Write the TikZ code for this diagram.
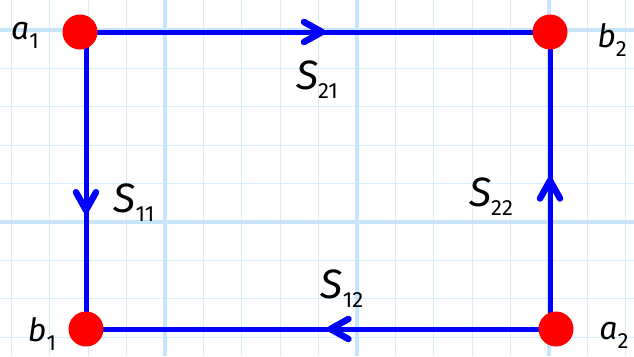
\documentclass[tikz,border=0pt]{standalone}
\usepackage{fontspec}
\setmainfont{Fira Sans}
\usetikzlibrary{backgrounds}

\definecolor{gridthin}{RGB}{214,237,252}
\definecolor{gridthick}{RGB}{200,230,250}

% letter with a lowered index
\newcommand{\idx}[2]{{\itshape #1}\raisebox{-9pt}{\fontsize{22}{22}\selectfont #2}}

\tikzset{
	dot/.style={circle, fill=red, minimum size=35pt, inner sep=0pt},
	side/.style={blue, line width=5pt},
	chev/.style={blue, line width=6.5pt, line cap=round, line join=round},
	corner/.style={inner sep=0pt, font=\fontsize{32}{32}\selectfont},
	param/.style={inner sep=0pt, font=\fontsize{41}{41}\selectfont}
}

\begin{document}
\begin{tikzpicture}[x=1pt, y=-1pt]
		\useasboundingbox (0,0) rectangle (634,356);

		% ports
		\node[dot] (a1) at (80,32) {};
		\node[dot] (b2) at (550,32) {};
		\node[dot] (b1) at (86,329) {};
		\node[dot] (a2) at (556,329) {};

		\begin{scope}[on background layer]
		% squared paper
		\foreach \i in {0,...,16}
			\draw[gridthin, line width=1pt] ({11.4+38.4*\i},0) -- ++(0,356);
		\foreach \j in {0,...,8}
			\draw[gridthin, line width=1pt] (0,{30+38.4*\j}) -- ++(634,0);
		\foreach \i in {165,357,549}
			\draw[gridthick, line width=4pt] (\i,0) -- ++(0,356);
		\foreach \j in {30,222}
			\draw[gridthick, line width=4pt] (0,\j) -- ++(634,0);

		% signal flow
		\draw[side] (a1.center) -- coordinate[pos=0.515] (m21) (b2.center);
		\draw[side] (b1.center |- a1.center) -- coordinate[pos=0.6] (m11) (b1.center);
		\draw[side] (a2.center) -- coordinate[pos=0.48] (m12) (b1.center);
		\draw[side] (b2.center |- a2.center) -- coordinate[pos=0.5] (m22) (b2.center);
		\end{scope}

		% arrow heads
		\draw[chev] ([shift={(-18,-10)}]m21) -- (m21) -- ([shift={(-18,10)}]m21);
		\draw[chev] ([shift={(-10,-18)}]m11) -- (m11) -- ([shift={(10,-18)}]m11);
		\draw[chev] ([shift={(18,-10)}]m12) -- (m12) -- ([shift={(18,10)}]m12);
		\draw[chev] ([shift={(-10,18)}]m22) -- (m22) -- ([shift={(10,18)}]m22);

		% labels
		\node[corner] (la1) at (25,35) {\idx{a}{1}};
		\node[corner] (lb2) at (612,40) {\idx{b}{2}};
		\node[corner] (lb1) at (42,334) {\idx{b}{1}};
		\node[corner] (la2) at (614,335) {\idx{a}{2}};
		\node[param] (s21) at (317,80) {\idx{S}{21}};
		\node[param] (s11) at (134,203) {\idx{S}{11}};
		\node[param] (s22) at (491,197) {\idx{S}{22}};
		\node[param] (s12) at (342,289) {\idx{S}{12}};
	\end{tikzpicture}
\end{document}
